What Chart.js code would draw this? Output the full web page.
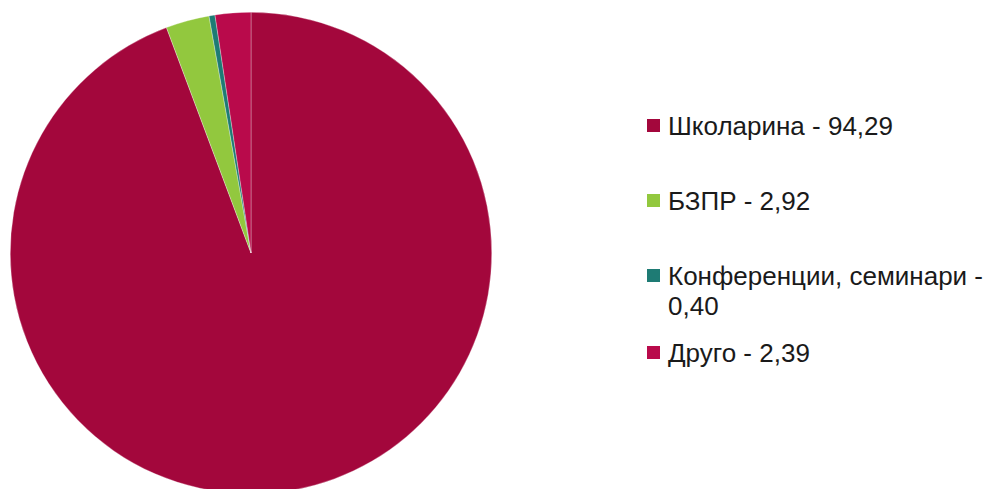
<!DOCTYPE html>
<html><head><meta charset="utf-8">
<script src="https://cdn.jsdelivr.net/npm/chart.js@4/dist/chart.umd.min.js"></script>
<style>
html,body{margin:0;padding:0;background:#fff;width:997px;height:489px;overflow:hidden;position:relative;}
#wrap{position:absolute;left:10px;top:12px;width:482px;height:482px;}
.lg{position:absolute;left:647px;font-family:"Liberation Sans",Arial,sans-serif;font-size:26px;line-height:30px;color:#1a1a1a;}
.lg .sq{position:absolute;left:0;width:13px;height:13px;}
.lg .tx{position:absolute;left:21px;white-space:nowrap;}
</style></head>
<body>
<div id="wrap"><canvas id="c" width="482" height="482"></canvas></div>
<div id="legend"></div>
<script>
const labels = ["Школарина", "БЗПР", "Конференции, семинари", "Друго"];
const values = [94.29, 2.92, 0.40, 2.39];
const valueTexts = ["94,29", "2,92", "0,40", "2,39"];
const colors = ["#A3073C", "#92C83E", "#1E7B74", "#B90A4B"];

new Chart(document.getElementById('c'), {
  type: 'pie',
  data: { labels: labels, datasets: [{ data: values, backgroundColor: colors, borderColor: 'rgba(255,255,255,0.6)', borderWidth: 0.5 }] },
  options: {
    responsive: false, animation: false,
    layout: { padding: 0 },
    plugins: { legend: { display: false }, tooltip: { enabled: false } }
  }
});

const rows = [
  {top: 111, lines: [labels[0] + " - " + valueTexts[0]]},
  {top: 186, lines: [labels[1] + " - " + valueTexts[1]]},
  {top: 261, lines: [labels[2] + " -", valueTexts[2]]},
  {top: 338, lines: [labels[3] + " - " + valueTexts[3]]}
];
const lg = document.getElementById('legend');
rows.forEach((r, i) => {
  const d = document.createElement('div');
  d.className = 'lg';
  d.style.top = r.top + 'px';
  const sq = document.createElement('div');
  sq.className = 'sq'; sq.style.background = colors[i]; sq.style.top = '8px';
  const tx = document.createElement('div');
  tx.className = 'tx'; tx.innerHTML = r.lines.join('<br>');
  d.appendChild(sq); d.appendChild(tx);
  lg.appendChild(d);
});
</script>
</body></html>
